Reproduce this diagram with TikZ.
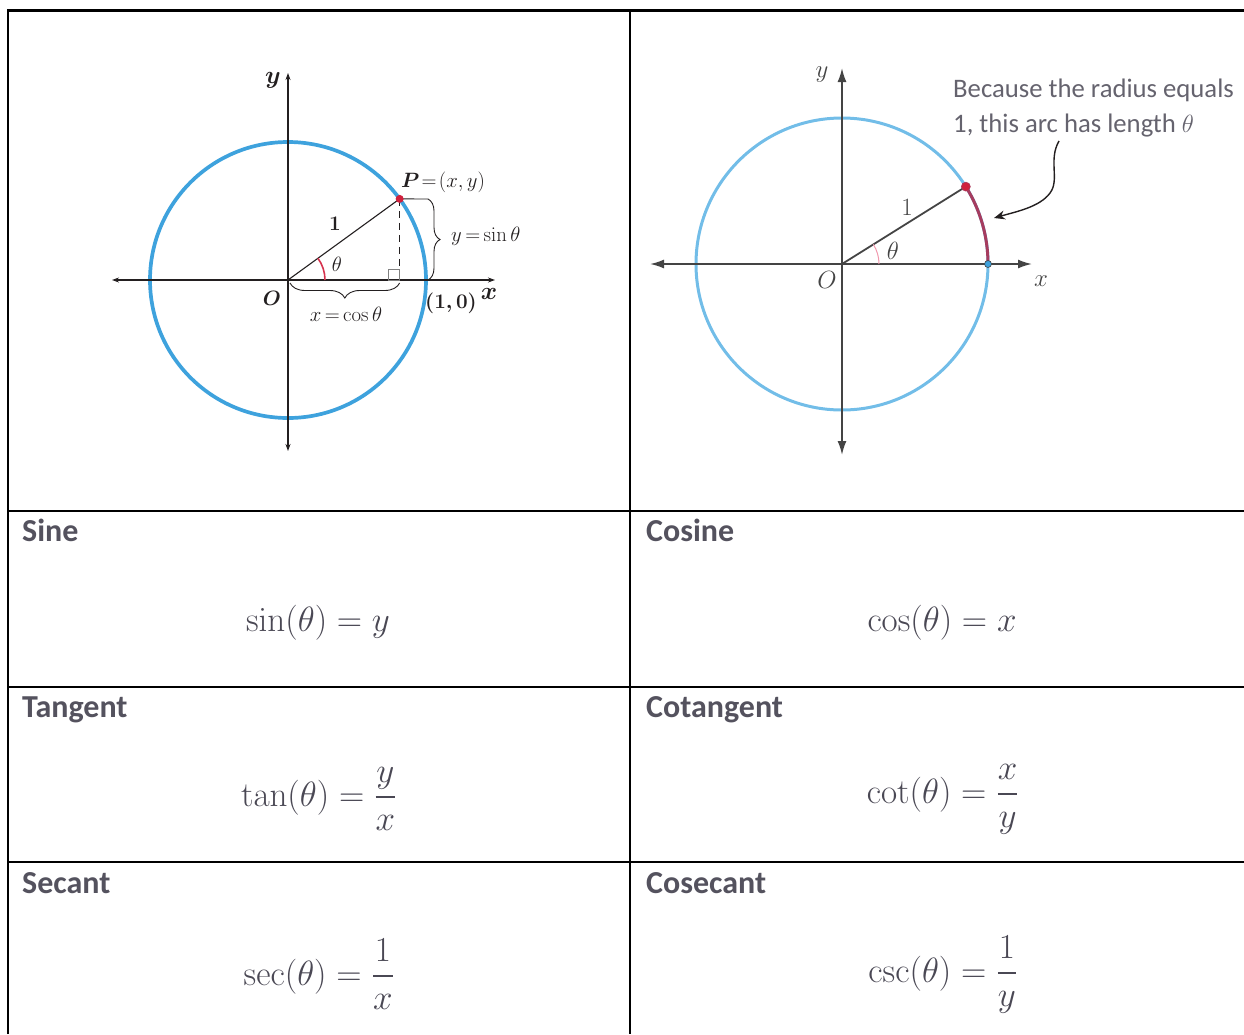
\documentclass[tikz,border=0pt]{standalone}
\usepackage{amsmath,amssymb,bm}
\usepackage[no-math]{fontspec}
\setmainfont{Carlito}
\usepackage{xcolor}
\usepackage{graphicx}
\usepackage{tikz}
\usetikzlibrary{positioning,arrows.meta,decorations.pathreplacing}
\usetikzlibrary{calc}

\definecolor{headgray}{HTML}{54525E}
\definecolor{formgray}{HTML}{4A4854}
\definecolor{circblue}{HTML}{3EA2DD}
\definecolor{lightblue}{HTML}{72BDE8}
\definecolor{ptred}{HTML}{D0203C}
\definecolor{arcred}{HTML}{A63C5F}
\definecolor{angpink}{HTML}{EE7F98}
\definecolor{axgray}{HTML}{444444}
\definecolor{inkblack}{HTML}{231F20}

\newcommand{\fsz}[1]{\fontsize{#1}{#1}\selectfont}
\newcommand{\bigform}[1]{\scalebox{1.41}{$#1$}}

\begin{document}
\begin{tikzpicture}[x=1pt, y=-1pt,
  gridline/.style={line width=2.2pt, black},
  headtxt/.style={anchor=base west, inner sep=0pt, text=headgray, font={\fsz{32}\bfseries}},
  formtxt/.style={anchor=base, inner sep=0pt, text=formgray, font={\fsz{30}}},
  leftlbl/.style={inner sep=0pt, text=inkblack, font={\fsz{20}}},
  rightlbl/.style={inner sep=0pt, text=axgray, font={\fsz{23}}},
  anntxt/.style={anchor=base west, inner sep=0pt, text=headgray!90, font={\fsz{26.7}}}]
  \useasboundingbox (0,0) rectangle (1244,1034);

  % table rules
  \draw[gridline] (8,1034) -- (8,10.5) -- (1244,10.5);
  \draw[gridline] (630,10.5) -- (630,1034);
  \foreach \yy in {511,687,862} {
    \draw[gridline] (8,\yy) -- (1244,\yy);
  }

  % headings and formulas
  \node[headtxt] (hsin) at (22,541) {Sine};
  \node[headtxt] (hcos) at (646,541) {Cosine};
  \node[headtxt] (htan) at (22,717) {Tangent};
  \node[headtxt] (hcot) at (646,717) {Cotangent};
  \node[headtxt] (hsec) at (22,893) {Secant};
  \node[headtxt] (hcsc) at (646,893) {Cosecant};
  \node[formtxt] (fsin) at (318,631) {\bigform{\sin(\theta) = y}};
  \node[formtxt] (fcos) at (942,631) {\bigform{\cos(\theta) = x}};
  \node[formtxt] (ftan) at (319,806) {\bigform{\tan(\theta) = \dfrac{y}{x}}};
  \node[formtxt] (fcot) at (943,803) {\bigform{\cot(\theta) = \dfrac{x}{y}}};
  \node[formtxt] (fsec) at (319,985) {\bigform{\sec(\theta) = \dfrac{1}{x}}};
  \node[formtxt] (fcsc) at (943,982) {\bigform{\csc(\theta) = \dfrac{1}{y}}};

  % left unit circle
  \coordinate (lO) at (288,280);
  \coordinate (lP) at ($(lO)+(-36:138)$);
  \coordinate (lF) at (lP |- lO);
  \coordinate (lxl) at (112,280);
  \coordinate (lxr) at (495,280);
  \coordinate (lyt) at (288,73);
  \coordinate (lyb) at (288,451);
  \coordinate (lbr) at (428,199);
  \draw[circblue, line width=3.7pt] (lO) circle[radius=138];
  \draw[{Stealth[length=7pt,width=5pt]}-{Stealth[length=7pt,width=5pt]}, line width=1.1pt, inkblack] (lxl) -- (lxr);
  \draw[{Stealth[length=7pt,width=5pt]}-{Stealth[length=7pt,width=5pt]}, line width=1.1pt, inkblack] (lyb) -- (lyt);
  \draw[inkblack, dash pattern=on 7pt off 5pt, line width=1.2pt] (lP) -- (lF);
  \draw[inkblack, dash pattern=on 10pt off 5pt, line width=1.8pt] (lO) -- (lF);
  \draw[gray, line width=0.7pt] ($(lF)+(-11,0)$) rectangle ($(lF)+(0,-11)$);
  \draw[inkblack, line width=1.1pt] (lO) -- (lP);
  \draw[ptred!80!angpink, line width=1.6pt] ($(lO)+(37,0)$) arc[start angle=0, end angle=-36, radius=37];
  \draw[inkblack, line width=0.9pt] (lP) -- (lbr);
  \draw[inkblack, line width=0.9pt, decorate, decoration={brace, amplitude=12pt}] (lbr) -- (lbr |- lO);
  \draw[inkblack, line width=0.9pt, decorate, decoration={brace, amplitude=15pt}] ($(lF)+(0,3)$) -- ($(lO)+(2,3)$);
  \fill[ptred] (lP) circle[radius=4];
  \node[leftlbl, font={\fsz{23}}] (ly) at (273,80) {$\bm{y}$};
  \node[leftlbl, font={\fsz{23}}] (lx) at (489,294) {$\bm{x}$};
  \node[leftlbl, font={\fsz{22}}] (lOl) at (272,298) {$\bm{O}$};
  \node[leftlbl, anchor=west] (l10) at (425,303) {$\bm{(1,0)}$};
  \node[leftlbl] (lcos) at (346,314) {$x\mkern-2mu=\mkern-2mu\cos\theta$};
  \node[leftlbl, anchor=west] (lsin) at (451,236) {$y\mkern-2mu=\mkern-2mu\sin\theta$};
  \node[leftlbl, font={\fsz{22}}] (lPl) at (443,182) {$\bm{P} \!=\! (x, y)$};
  \node[leftlbl, font={\fsz{22}}] (lone) at (335,224) {$\mathbf{1}$};
  \node[leftlbl, font={\fsz{22}}] (lth) at (337,264) {$\theta$};

  % right unit circle
  \coordinate (rO) at (842,264);
  \coordinate (rP) at ($(rO)+(-32:146)$);
  \coordinate (rA) at ($(rO)+(146,0)$);
  \coordinate (rxl) at (650,264);
  \coordinate (rxr) at (1032,264);
  \coordinate (ryt) at (842,68);
  \coordinate (ryb) at (842,455);
  \draw[lightblue, line width=3pt] (rO) circle[radius=146];
  \draw[arcred, line width=3pt] (rA) arc[start angle=0, end angle=-32, radius=146];
  \draw[axgray, line width=1.8pt, {Latex[length=14pt,width=9pt]}-{Latex[length=14pt,width=9pt]}] (rxl) -- (rxr);
  \draw[axgray, line width=1.8pt, {Latex[length=14pt,width=9pt]}-{Latex[length=14pt,width=9pt]}] (ryb) -- (ryt);
  \draw[axgray, line width=1.8pt] (rO) -- (rP);
  \draw[angpink!80, line width=1pt] ($(rO)+(37,0)$) arc[start angle=0, end angle=-32, radius=37];
  \filldraw[fill=ptred, draw=arcred, line width=0.6pt] (rP) circle[radius=4.5];
  \filldraw[fill=circblue, draw=axgray, line width=0.6pt] (rA) circle[radius=3.5];
  \node[rightlbl] (ry) at (822,75) {$y$};
  \node[rightlbl] (rOl) at (827,280) {$O$};
  \node[rightlbl] (rx) at (1041,281) {$x$};
  \node[rightlbl] (rone) at (907,207) {$1$};
  \node[rightlbl] (rth) at (893,251) {$\theta$};
  \node[anntxt] (ann1) at (953,97) {Because the radius equals};
  \node[anntxt] (ann2) at (953,132) {1, this arc has length $\theta$};
  \coordinate (tailA) at (1059,141);
  \coordinate (headA) at (994,218);
  \draw[inkblack, line width=1.4pt, -{Stealth[length=11pt,width=9pt]}] (tailA) .. controls (1048,160) and (1060,180) .. (1050,193) .. controls (1040,207) and (1015,212) .. (headA);
\end{tikzpicture}
\end{document}
